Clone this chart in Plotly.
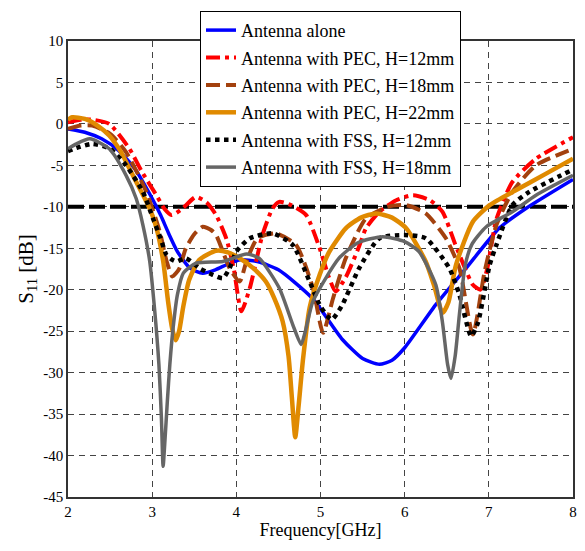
import plotly.graph_objects as go

# ---------------- data ----------------
freq_alone = [2.0, 2.2, 2.4, 2.6, 2.8, 3.0, 3.1, 3.2, 3.3, 3.45, 3.6, 3.75, 3.9, 4.05, 4.25,
              4.5, 4.9, 5.26, 5.5, 5.7, 5.85, 6.0, 6.37, 6.73, 7.12, 7.44, 8.0]
s11_alone = [-0.6, -1.0, -1.8, -3.2, -5.5, -9.0, -11.0, -13.3, -15.4, -17.4, -18.0, -17.6, -16.9, -16.4, -16.6,
             -17.6, -21.0, -26.0, -28.3, -29.0, -28.5, -27.0, -21.8, -17.4, -12.6, -10.2, -6.7]

freq_pec12 = [2.0, 2.15, 2.3, 2.49, 2.73, 2.88, 3.05, 3.15, 3.23, 3.35, 3.52, 3.65, 3.76, 3.88, 3.97,
              4.06, 4.16, 4.31, 4.43, 4.51, 4.65, 4.83, 4.99, 5.1, 5.18, 5.3, 5.45, 5.54, 5.7, 5.9,
              6.1, 6.3, 6.45, 6.6, 6.72, 6.81, 6.9, 6.98, 7.09, 7.28, 7.56, 8.0]
s11_pec12 = [0.2, 0.5, 0.5, 0.0, -3.0, -5.8, -8.6, -10.3, -11.0, -10.3, -8.8, -9.5, -11.0, -13.8, -17.5,
             -22.6, -19.8, -13.4, -10.2, -9.4, -9.8, -11.0, -15.0, -18.5, -20.2, -18.5, -15.0, -12.6, -10.6, -9.2,
             -8.6, -9.2, -10.6, -14.5, -17.5, -19.4, -20.0, -17.5, -11.5, -7.0, -4.2, -1.6]

freq_pec18 = [2.0, 2.15, 2.29, 2.5, 2.69, 2.93, 3.09, 3.17, 3.24, 3.32, 3.40, 3.5, 3.6, 3.7, 3.76,
              3.92, 4.04, 4.12, 4.25, 4.47, 4.71, 4.91, 5.03, 5.15, 5.30, 5.54, 5.8, 6.02, 6.25,
              6.49, 6.65, 6.81, 6.95, 7.09, 7.28, 7.56, 8.0]
s11_pec18 = [-0.6, -0.2, -0.2, -1.2, -3.4, -8.2, -13.0, -16.5, -18.4, -17.5, -15.0, -13.3, -12.4, -12.8, -13.4,
             -17.4, -19.0, -16.6, -13.8, -13.2, -14.6, -19.8, -25.2, -21.0, -16.2, -11.4, -10.0, -9.8, -10.8,
             -13.8, -17.4, -25.4, -17.8, -12.2, -8.2, -5.0, -3.0]

freq_pec22 = [2.0, 2.05, 2.2, 2.35, 2.49, 2.63, 2.77, 2.97, 3.05, 3.13, 3.19, 3.24, 3.28, 3.32, 3.37,
              3.44, 3.56, 3.76, 3.9, 4.04, 4.2, 4.35, 4.45, 4.55, 4.62, 4.66, 4.70, 4.74, 4.79, 4.87,
              4.99, 5.1, 5.30, 5.48, 5.66, 5.85, 6.02, 6.25, 6.35, 6.45, 6.52, 6.61, 6.81, 7.01,
              7.32, 7.68, 8.0]
s11_pec22 = [0.5, 0.8, 0.6, -0.2, -1.4, -3.4, -6.2, -10.2, -12.5, -16.5, -21.5, -24.8, -26.1, -25.0, -22.0,
             -18.8, -16.4, -15.3, -15.5, -16.2, -17.4, -19.0, -21.0, -23.8, -28.0, -33.0, -37.8, -34.0, -28.6, -22.2,
             -18.2, -15.5, -12.6, -11.3, -10.8, -11.3, -12.6, -16.6, -19.5, -22.8, -21.5, -17.0, -11.8, -9.8,
             -8.0, -6.0, -4.2]

freq_fss12 = [2.0, 2.1, 2.29, 2.5, 2.69, 2.89, 3.01, 3.1, 3.17, 3.24, 3.29, 3.40, 3.56, 3.72, 3.84,
              3.92, 4.0, 4.16, 4.43, 4.67, 4.87, 5.0, 5.13, 5.25, 5.46, 5.70, 6.0, 6.25, 6.53,
              6.65, 6.79, 6.87, 7.01, 7.09, 7.28, 7.48, 8.0]
s11_fss12 = [-3.3, -2.9, -2.4, -3.0, -5.0, -8.2, -11.4, -13.8, -15.8, -16.4, -16.6, -16.2, -17.4, -18.2, -18.6,
             -17.4, -15.4, -13.8, -13.2, -14.6, -19.0, -22.0, -23.6, -22.0, -17.4, -13.8, -13.4, -13.8, -17.4,
             -20.6, -25.6, -24.0, -17.0, -14.6, -9.8, -8.2, -5.5]

freq_fss18 = [2.0, 2.1, 2.26, 2.49, 2.69, 2.81, 2.89, 2.97, 3.03, 3.08, 3.11, 3.13, 3.15, 3.18, 3.21,
              3.25, 3.3, 3.37, 3.52, 3.84, 4.12, 4.27, 4.51, 4.67, 4.77, 4.82, 4.91, 5.22, 5.45,
              5.74, 6.0, 6.17, 6.37, 6.45, 6.51, 6.55, 6.6, 6.65, 6.72, 6.8, 6.97, 7.28, 7.56, 8.0]
s11_fss18 = [-3.0, -2.4, -1.8, -3.0, -6.2, -9.0, -12.2, -16.5, -22.5, -29.0, -35.5, -41.3, -38.5, -33.5, -29.0,
             -24.5, -20.6, -18.0, -16.8, -16.6, -15.7, -16.2, -19.8, -24.2, -26.6, -25.0, -21.4, -16.2, -14.3,
             -13.6, -14.2, -15.4, -19.4, -24.0, -29.0, -30.7, -28.0, -23.0, -17.0, -14.5, -12.4, -10.6, -8.6, -6.2]

threshold_x = [2, 8]
threshold_y = [-10, -10]

x_ticks = [2, 3, 4, 5, 6, 7, 8]
y_ticks = [10, 5, 0, -5, -10, -15, -20, -25, -30, -35, -40, -45]

names = ["Antenna alone", "Antenna with PEC, H=12mm", "Antenna with PEC, H=18mm",
         "Antenna with PEC, H=22mm", "Antenna with FSS, H=12mm", "Antenna with FSS, H=18mm"]

# ---------------- figure ----------------
FONT = "Liberation Serif"
fig = go.Figure()

fig.add_trace(go.Scatter(x=threshold_x, y=threshold_y, mode="lines", showlegend=False,
                         line=dict(color="black", width=4, dash="16px,5px"), hoverinfo="skip"))

series = [
    (freq_alone, s11_alone, dict(color="#0000FF", width=3.5, dash="solid")),
    (freq_pec12, s11_pec12, dict(color="#FF0000", width=4, dash="14px,5px,4px,5px")),
    (freq_pec18, s11_pec18, dict(color="#A3410E", width=4, dash="14px,6px")),
    (freq_pec22, s11_pec22, dict(color="#E08A00", width=4.5, dash="solid")),
    (freq_fss12, s11_fss12, dict(color="#000000", width=4.5, dash="dot")),
    (freq_fss18, s11_fss18, dict(color="#666666", width=3.5, dash="solid")),
]
for i, (xs, ys, ln) in enumerate(series):
    fig.add_trace(go.Scatter(x=xs, y=ys, mode="lines", name=names[i], legendgroup=f"g{i}",
                             line=dict(shape="spline", smoothing=0.6, **ln)))

fig.update_layout(
    width=585, height=551,
    margin=dict(l=68, r=12, t=41, b=54, autoexpand=False),
    paper_bgcolor="white", plot_bgcolor="white",
    font=dict(family=FONT, color="black", size=14),
    legend=dict(x=0.2614, y=1.066, xanchor="left", yanchor="top",
                bgcolor="white", bordercolor="black", borderwidth=1,
                font=dict(family=FONT, size=18, color="black"),
                tracegroupgap=1, itemwidth=30),
    showlegend=True,
)
fig.update_xaxes(range=[2, 8], tickvals=x_ticks, ticktext=[str(v) for v in x_ticks],
                 showgrid=True, gridcolor="#444444", gridwidth=1, griddash="6px,5px",
                 showline=True, linecolor="#333333", linewidth=1.5, mirror=True, ticks="",
                 zeroline=False, tickfont=dict(family=FONT, size=15, color="black"), automargin=False,
                 title=dict(text="Frequency[GHz]", font=dict(family=FONT, size=18, color="black"), standoff=5))
fig.update_yaxes(range=[-45, 10], tickvals=y_ticks, ticktext=[str(v) for v in y_ticks],
                 showgrid=True, gridcolor="#444444", gridwidth=1, griddash="6px,5px",
                 showline=True, linecolor="#333333", linewidth=1.5, mirror=True, ticks="",
                 zeroline=False, tickfont=dict(family=FONT, size=15, color="black"), automargin=False,
                 title=dict(text="S<sub>11</sub> [dB]", font=dict(family=FONT, size=21, color="black"), standoff=4))

fig.write_html("out.html", config={"displayModeBar": False},
               post_script="document.body.style.margin='0';document.body.style.padding='0';")
